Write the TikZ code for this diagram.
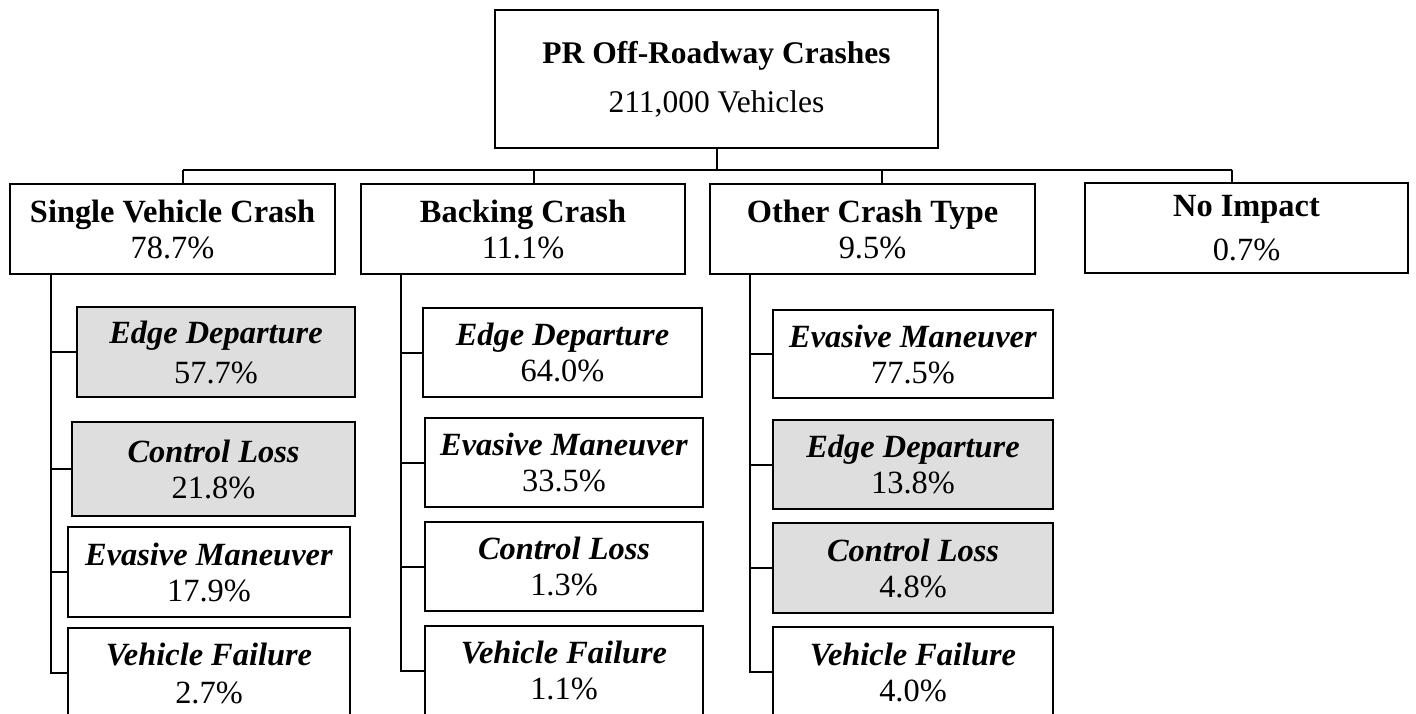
\documentclass[tikz,border=0pt]{standalone}
\usepackage{fontspec}
\setmainfont{Liberation Serif}
\begin{document}
\begin{tikzpicture}[x=0.5pt,y=-0.5pt,
  box/.style={draw, line width=1.2pt, align=center, inner sep=0pt,
    font=\fontsize{16.2}{18}\selectfont},
  headbox/.style={box, font=\fontsize{15.75}{18}\selectfont},
  subbox/.style={box, minimum height=45pt},
  shaded/.style={fill=black!13},
  link/.style={draw, line width=1pt}]
\useasboundingbox (0,0) rectangle (1416,713);
\clip (0,0) rectangle (1416,713);

% root
\node[headbox, minimum width=221.5pt, minimum height=69pt] (root) at (716.5,79)
  {\textbf{PR Off-Roadway Crashes}\\[6.5pt]211,000 Vehicles};

% crash types
\node[box, minimum width=162.5pt, minimum height=45pt] (svc) at (172.5,229)
  {\textbf{Single Vehicle Crash}\\78.7\%};
\node[box, minimum width=162pt, minimum height=45pt] (bc) at (523,229)
  {\textbf{Backing Crash}\\11.1\%};
\node[box, minimum width=162.5pt, minimum height=45pt] (oct) at (872.5,229)
  {\textbf{Other Crash Type}\\9.5\%};
\node[box, minimum width=161.5pt, minimum height=45pt] (ni) at (1246.5,228)
  {\textbf{No Impact}\\[4pt]0.7\%};

% single vehicle crash breakdown
\node[subbox, shaded, minimum width=139pt] (ed1) at (216,352)
  {\textbf{\itshape Edge Departure}\\[2pt]57.7\%};
\node[subbox, shaded, minimum width=141.5pt, minimum height=47pt] (cl1) at (213.5,469)
  {\textbf{\itshape Control Loss}\\21.8\%};
\node[subbox, minimum width=141pt] (em1) at (209,572)
  {\textbf{\itshape Evasive Maneuver}\\17.9\%};
\node[subbox, minimum width=141pt] (vf1) at (209,673)
  {\textbf{\itshape Vehicle Failure}\\[1pt]2.7\%};

% backing crash breakdown
\node[subbox, minimum width=139.5pt, minimum height=44.5pt] (ed2) at (562.5,352.5)
  {\textbf{\itshape Edge Departure}\\64.0\%};
\node[subbox, minimum width=139pt, minimum height=44.5pt] (em2) at (564,462.5)
  {\textbf{\itshape Evasive Maneuver}\\33.5\%};
\node[subbox, minimum width=139pt, minimum height=44.5pt] (cl2) at (564,566.5)
  {\textbf{\itshape Control Loss}\\1.3\%};
\node[subbox, minimum width=139pt, minimum height=44.5pt] (vf2) at (564,670.5)
  {\textbf{\itshape Vehicle Failure}\\1.1\%};

% other crash type breakdown
\node[subbox, minimum width=140pt, minimum height=44pt] (em3) at (913,354)
  {\textbf{\itshape Evasive Maneuver}\\77.5\%};
\node[subbox, shaded, minimum width=140pt, minimum height=44.5pt] (ed3) at (913,464.5)
  {\textbf{\itshape Edge Departure}\\13.8\%};
\node[subbox, shaded, minimum width=140pt] (cl3) at (913,568)
  {\textbf{\itshape Control Loss}\\4.8\%};
\node[subbox, minimum width=140pt] (vf3) at (913,672)
  {\textbf{\itshape Vehicle Failure}\\4.0\%};

% bus from the root to the crash types
\coordinate (s1) at (183,170);
\coordinate (s2) at (534,170);
\coordinate (s3) at (882,170);
\coordinate (s4) at (1232,170);
\path[link] (root.south) -- (root.south |- s1);
\path[link] (s1) -- (s4);
\path[link] (s1) -- (s1 |- svc.north);
\path[link] (s2) -- (s2 |- bc.north);
\path[link] (s3) -- (s3 |- oct.north);
\path[link] (s4) -- (s4 |- ni.north);

% trunks down each column
\coordinate (t1) at (51,0);
\coordinate (t2) at (401,0);
\coordinate (t3) at (750,0);
\path[link] (t1 |- svc.south) |- (vf1.west);
\path[link] (t1 |- ed1.west) -- (ed1.west);
\path[link] (t1 |- cl1.west) -- (cl1.west);
\path[link] (t1 |- em1.west) -- (em1.west);

\path[link] (t2 |- bc.south) |- (vf2.west);
\path[link] (t2 |- ed2.west) -- (ed2.west);
\path[link] (t2 |- em2.west) -- (em2.west);
\path[link] (t2 |- cl2.west) -- (cl2.west);

\path[link] (t3 |- oct.south) |- (vf3.west);
\path[link] (t3 |- em3.west) -- (em3.west);
\path[link] (t3 |- ed3.west) -- (ed3.west);
\path[link] (t3 |- cl3.west) -- (cl3.west);
\end{tikzpicture}
\end{document}
